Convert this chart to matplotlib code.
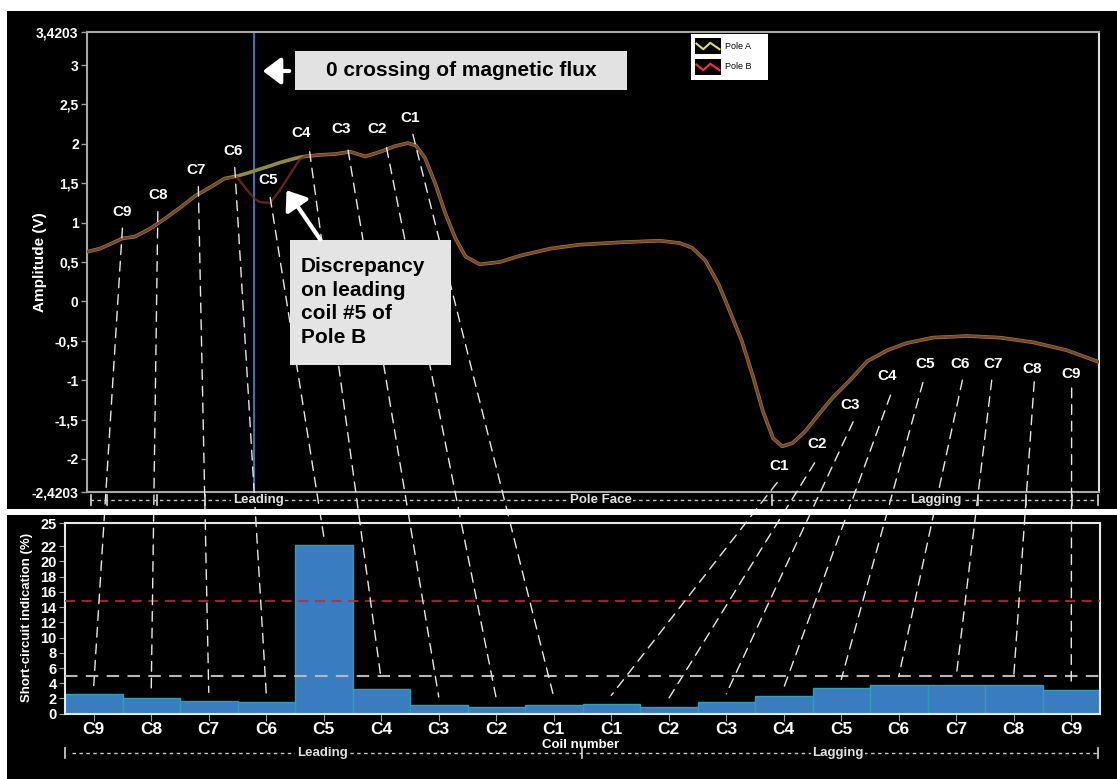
import matplotlib
matplotlib.use('Agg')
import matplotlib.pyplot as plt
from matplotlib.patches import Rectangle, ConnectionPatch, FancyArrowPatch
from matplotlib.lines import Line2D
from matplotlib.ticker import FixedLocator, FixedFormatter

plt.rcParams['font.family'] = ['Liberation Sans', 'DejaVu Sans']

W, H = 1117, 779

# ---------------- data ----------------
time_ms = [0.0, 1.3, 2.5, 3.5, 4.7, 6.2, 7.7, 9.2, 10.7, 12.2, 13.6, 14.8, 15.9,
           16.6, 17.1, 18.1, 19.0, 20.1, 21.0, 21.5, 23.0, 24.5, 26.0, 27.5,
           29.0, 30.4, 31.7, 32.5, 33.4, 34.4, 35.4, 36.4, 37.4, 38.8, 40.8,
           42.8, 45.8, 48.7, 52.7, 56.6, 58.6, 59.8, 61.1, 62.4, 63.5, 64.7,
           65.8, 66.8, 67.8, 68.7, 69.7, 70.9, 72.4, 73.7, 75.4, 77.1, 79.1,
           81.0, 83.6, 87.0, 90.2, 93.5, 96.8, 100.0]
pole_a = [0.63, 0.67, 0.74, 0.80, 0.82, 0.92, 1.05, 1.19, 1.34, 1.45, 1.56, 1.59, 1.63,
          1.66, 1.68, 1.72, 1.76, 1.80, 1.83, 1.84, 1.86, 1.87, 1.90, 1.84,
          1.90, 1.97, 2.01, 1.98, 1.82, 1.50, 1.12, 0.80, 0.57, 0.47, 0.50,
          0.58, 0.67, 0.72, 0.75, 0.77, 0.74, 0.68, 0.52, 0.22, -0.12, -0.50,
          -0.95, -1.40, -1.74, -1.84, -1.80, -1.66, -1.42, -1.22, -1.00, -0.76, -0.62,
          -0.53, -0.46, -0.44, -0.46, -0.52, -0.62, -0.77]
pole_b = [0.63, 0.67, 0.74, 0.80, 0.82, 0.92, 1.05, 1.19, 1.34, 1.45, 1.56, 1.58, 1.40,
          1.30, 1.26, 1.25, 1.40, 1.62, 1.80, 1.84, 1.86, 1.87, 1.90, 1.84,
          1.90, 1.97, 2.01, 1.98, 1.82, 1.50, 1.12, 0.80, 0.57, 0.47, 0.50,
          0.58, 0.67, 0.72, 0.75, 0.77, 0.74, 0.68, 0.52, 0.22, -0.12, -0.50,
          -0.95, -1.40, -1.74, -1.84, -1.80, -1.66, -1.42, -1.22, -1.00, -0.76, -0.62,
          -0.53, -0.46, -0.44, -0.46, -0.52, -0.62, -0.77]

coils = ['C9', 'C8', 'C7', 'C6', 'C5', 'C4', 'C3', 'C2', 'C1',
         'C1', 'C2', 'C3', 'C4', 'C5', 'C6', 'C7', 'C8', 'C9']
short_circuit = [2.6, 2.1, 1.7, 1.5, 22.2, 3.3, 1.1, 0.9, 1.1,
                 1.3, 0.9, 1.5, 2.3, 3.4, 3.8, 3.8, 3.8, 3.1]
alarm_level = 14.8
warning_level = 5.0
flux_zero_crossing = 16.5

amp_ticks = [3.4203, 3, 2.5, 2, 1.5, 1, 0.5, 0, -0.5, -1, -1.5, -2, -2.4203]
amp_tick_labels = ['3,4203', '3', '2,5', '2', '1,5', '1', '0,5', '0',
                   '-0,5', '-1', '-1,5', '-2', '-2,4203']
sc_ticks = [0, 2, 4, 6, 8, 10, 12, 14, 16, 18, 20, 22, 25]

# coil label positions on the waveform (time, amplitude) and connector start points
coil_label_pos = [(3.5, 1.14), (7.0, 1.35), (10.8, 1.67), (14.4, 1.91), (17.9, 1.54),
                  (21.2, 2.14), (25.1, 2.19), (28.7, 2.19), (31.9, 2.33),
                  (68.4, -2.09), (72.1, -1.81), (75.4, -1.32), (79.1, -0.95), (82.8, -0.80),
                  (86.3, -0.80), (89.5, -0.80), (93.4, -0.86), (97.2, -0.92)]
connector_start = [(3.5, 0.93), (7.0, 1.14), (11.0, 1.46), (14.6, 1.70), (18.1, 1.32),
                   (22.0, 1.90), (25.8, 1.92), (29.6, 1.95), (32.2, 2.12),
                   (68.2, -2.30), (71.9, -2.05), (75.7, -1.53), (79.4, -1.19), (82.6, -1.03),
                   (86.5, -1.00), (89.4, -1.00), (93.6, -1.02), (97.3, -1.10)]


def fx(px):
    return px / W


def fy(py):
    return 1 - py / H


fig = plt.figure(figsize=(W / 100, H / 100), dpi=100, facecolor='white')

# black background
fig.add_artist(Rectangle((fx(7), 0), 1 - fx(7), fy(11), transform=fig.transFigure,
                         facecolor='black', edgecolor='none', zorder=-10))
# white separator band
fig.add_artist(Rectangle((fx(7), fy(515)), 1 - fx(7), 6 / H, transform=fig.transFigure,
                         facecolor='white', edgecolor='none', zorder=6))

# ---------------- top axes ----------------
ax = fig.add_axes([fx(87), fy(492), fx(1099) - fx(87), fy(32) - fy(492)])
ax.set_facecolor('black')
ax.plot(time_ms, pole_a, color='#8e8a42', lw=2.6, solid_capstyle='round', zorder=3)
ax.plot(time_ms, pole_b, color='#7c2e1c', lw=1.7, alpha=0.8, zorder=4)
ax.axvline(flux_zero_crossing, color='#3a80d0', lw=1.3, zorder=2)
ax.set_xlim(0, 100)
ax.set_ylim(-2.4203, 3.4203)
ax.set_xticks([])
ax.yaxis.set_major_locator(FixedLocator(amp_ticks))
ax.yaxis.set_major_formatter(FixedFormatter(amp_tick_labels))
ax.tick_params(axis='y', colors='#a0a0a0', length=4, width=1, labelcolor='white',
               labelsize=10, pad=2)
for t in ax.get_yticklabels():
    t.set_fontweight('bold')
for s in ['left', 'top', 'bottom']:
    ax.spines[s].set_color('#a8a8a8')
    ax.spines[s].set_linewidth(1.5)
ax.spines['right'].set_color('#e0e0e0')
ax.spines['right'].set_linewidth(1.5)

for name, (x, v) in zip(coils, coil_label_pos):
    ax.text(x, v, name, color='white', fontsize=11, fontweight='bold',
            ha='center', va='center', zorder=6)

fig.text(fx(40), fy(262), 'Amplitude (V)', rotation=90, color='white', fontsize=11,
         fontweight='bold', ha='center', va='center')

# legend
axl = fig.add_axes([fx(691), fy(80), 77 / W, 46 / H])
axl.set_facecolor('white')
axl.set_xlim(0, 1)
axl.set_ylim(0, 1)
axl.set_xticks([])
axl.set_yticks([])
for s in axl.spines.values():
    s.set_visible(False)
for (y0, y1, col, lab) in [(0.565, 0.913, '#e0e040', 'Pole A'), (0.11, 0.457, '#ff3030', 'Pole B')]:
    axl.add_patch(Rectangle((0.05, y0), 0.34, y1 - y0, facecolor='black', edgecolor='none'))
    hh = y1 - y0
    axl.plot([0.07, 0.16, 0.25, 0.37], [y0 + 0.65 * hh, y0 + 0.3 * hh, y0 + 0.7 * hh, y0 + 0.3 * hh],
             color=col, lw=1.5)
    axl.text(0.44, (y0 + y1) / 2, lab, fontsize=6.5, color='black', va='center', ha='left')

# ---------------- bottom axes ----------------
axb = fig.add_axes([fx(65), fy(713.7), fx(1100) - fx(65), fy(523.3) - fy(713.7)])
axb.set_facecolor('black')
xpos = list(range(len(coils)))
axb.bar(xpos, short_circuit, width=1.0, color='#3a7cc0', edgecolor='#2aa0b4', lw=1, zorder=2)
axb.axhline(alarm_level, color='#d02424', lw=1.2, ls=(0, (6, 4)), zorder=3)
axb.axhline(warning_level, color='#b8b8b8', lw=1.5, ls=(0, (6, 4)), zorder=3)
axb.set_xlim(-0.5, len(coils) - 0.5)
axb.set_ylim(0, 25)
axb.set_xticks(xpos)
axb.set_xticklabels(coils)
axb.set_yticks(sc_ticks)
axb.tick_params(axis='x', colors='#a0a0a0', length=5, labelcolor='white', labelsize=12.5, pad=1)
axb.tick_params(axis='y', colors='#a0a0a0', length=4, labelcolor='white', labelsize=10.5, pad=2)
for t in axb.get_xticklabels() + axb.get_yticklabels():
    t.set_fontweight('bold')
for s in axb.spines.values():
    s.set_color('#e8e8e8')
    s.set_linewidth(1.5)

fig.text(fx(27), fy(617), 'Short-circuit indication (%)', rotation=90, color='white',
         fontsize=9.5, fontweight='bold', ha='center', va='center')
fig.text(fx(581), fy(745), 'Coil number', color='white', fontsize=9.5, fontweight='bold',
         ha='center', va='center')

# ---------------- connector lines ----------------
for i, (start, val) in enumerate(zip(connector_start, short_circuit)):
    cp = ConnectionPatch(xyA=start, coordsA=ax.transData, xyB=(i, val + 1.1), coordsB=axb.transData,
                         color='#e6e6e6', lw=1.0, linestyle=(0, (7, 5)), zorder=5)
    fig.add_artist(cp)

# ---------------- region strips ----------------
def strip(y, x0, x1, labels, ticks):
    fig.add_artist(Line2D([fx(x0), fx(x1)], [fy(y), fy(y)], transform=fig.transFigure,
                          color='#c8c8c8', lw=1.0, ls=(0, (2.5, 2.5)), zorder=7))
    for tx in ticks:
        fig.add_artist(Line2D([fx(tx), fx(tx)], [fy(y - 5), fy(y + 5)], transform=fig.transFigure,
                              color='#d8d8d8', lw=1.2, zorder=7))
    for (lx, txt) in labels:
        fig.text(fx(lx), fy(y), txt, color='#e0e0e0', fontsize=9.5, fontweight='bold',
                 ha='center', va='center', zorder=8,
                 bbox=dict(facecolor='black', edgecolor='none', pad=1))

strip(500, 90, 1098, [(258, 'Leading'), (601, 'Pole Face'), (936, 'Lagging')],
      [91, 107, 157, 205, 255, 772, 978, 1026, 1072, 1098])
strip(753, 72, 1098, [(322, 'Leading'), (838, 'Lagging')], [65, 582, 1098])

# ---------------- annotations ----------------
fig.add_artist(Rectangle((fx(295), fy(90)), 332 / W, 39 / H, transform=fig.transFigure,
                         facecolor='#e2e2e2', edgecolor='none', zorder=10))
fig.text(fx(461), fy(71), '0 crossing of magnetic flux', color='black', fontsize=15,
         fontweight='bold', ha='center', va='center', zorder=11)
fig.add_artist(FancyArrowPatch((fx(292), fy(71)), (fx(260), fy(71)), transform=fig.transFigure,
                               arrowstyle='-|>,head_length=0.6,head_width=0.45', mutation_scale=18,
                               color='white', lw=3, zorder=11))

fig.add_artist(Rectangle((fx(290), fy(365)), 161 / W, 125 / H, transform=fig.transFigure,
                         facecolor='#e4e4e4', edgecolor='none', zorder=10))
fig.text(fx(301), fy(302), 'Discrepancy\non leading\ncoil #5 of\nPole B', color='black',
         fontsize=15, fontweight='bold', ha='left', va='center', linespacing=1.3, zorder=11)
fig.add_artist(FancyArrowPatch((fx(322), fy(242)), (fx(285), fy(188)), transform=fig.transFigure,
                               arrowstyle='-|>,head_length=0.6,head_width=0.45', mutation_scale=18,
                               color='white', lw=3, zorder=11))

fig.savefig('out.png', dpi=100, facecolor=fig.get_facecolor())
